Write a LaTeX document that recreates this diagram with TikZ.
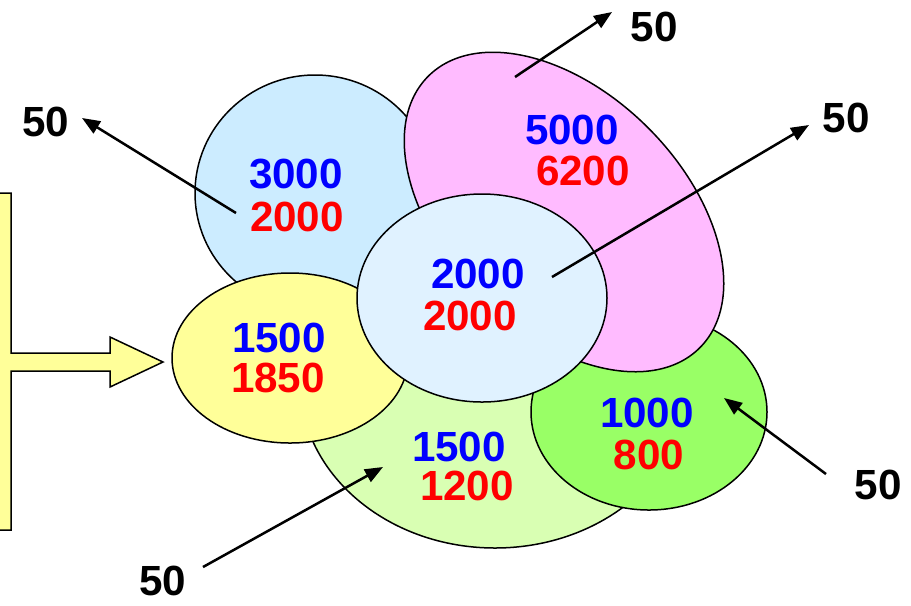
\documentclass[tikz,border=0pt]{standalone}
\usepackage{fontspec}
\setmainfont{Liberation Sans}
\usepackage{tikz}
\usetikzlibrary{arrows.meta,positioning}
\definecolor{skyblue}{HTML}{CCECFF}
\definecolor{paleblue}{HTML}{E0F2FF}
\definecolor{pinkish}{HTML}{FFBBFF}
\definecolor{paleyellow}{HTML}{FFFF99}
\definecolor{palegreen}{HTML}{D9FFB3}
\definecolor{lightgreen}{HTML}{99FF66}

\begin{document}
\begin{tikzpicture}[x=0.2mm,y=-0.2mm,
    region/.style={draw=black,line width=0.3mm},
    val/.style={font=\fontsize{24}{28}\selectfont\bfseries,inner sep=0pt},
    inval/.style={val,text=blue},
    outval/.style={val,text=red},
    flow/.style={line width=0.5mm,-{Triangle[length=3.6mm,width=2.8mm]}}]
  \useasboundingbox (0,0) rectangle (911,605);
  \begin{scope}
    \clip (0,0) rectangle (911,605);
    % the regions, back to front
    \draw[region,fill=palegreen] (495,382) ellipse [x radius=195, y radius=166];
    \draw[region,fill=lightgreen] (649,412) ellipse [x radius=118, y radius=98];
    \draw[region,fill=skyblue] (315,193) ellipse [x radius=120, y radius=118];
    \draw[region,fill=pinkish,shift={(564,212)},rotate=-45] (0,0) ellipse [x radius=192, y radius=119];
    \draw[region,fill=paleyellow] (290,358) ellipse [x radius=118, y radius=85];
    \draw[region,fill=paleblue] (482,298) ellipse [x radius=125, y radius=104];
    % feeding arrow on the left
    \draw[region,fill=paleyellow] (-10,193) -- (11,193) -- (11,353) -- (110,353) -- (110,337)
      -- (163,362) -- (110,387) -- (110,371) -- (11,371) -- (11,530) -- (-10,530) -- cycle;
  \end{scope}
  % values in each region
  \node[inval] (skyin) at (296,174) {3000};
  \node[outval] (skyout) at (297,217) {2000};
  \node[inval] (pinkin) at (572,130) {5000};
  \node[outval] (pinkout) at (583,171) {6200};
  \node[inval] (midin) at (478,274) {2000};
  \node[outval] (midout) at (470,316) {2000};
  \node[inval] (yelin) at (279,338) {1500};
  \node[outval] (yelout) at (278,378) {1850};
  \node[inval] (pgin) at (459,447) {1500};
  \node[outval] (pgout) at (467,486) {1200};
  \node[inval] (grin) at (647,413) {1000};
  \node[outval] (grout) at (649,455) {800};
  % arrow ends
  \coordinate (skysrc) at (236,213);
  \coordinate (skytip) at (82,118);
  \coordinate (pinksrc) at (515,77);
  \coordinate (pinktip) at (612,12);
  \coordinate (midsrc) at (552,277);
  \coordinate (midtip) at (809,125);
  \coordinate (grsrc) at (826,474);
  \coordinate (grtip) at (724,398);
  \coordinate (pgsrc) at (203,567);
  \coordinate (pgtip) at (383,467);
  % the 50 labels
  \node[val] (skylab) at (46,122) {50};
  \node[val] (pinklab) at (654,27) {50};
  \node[val] (midlab) at (846,118) {50};
  \node[val] (grlab) at (878,485) {50};
  \node[val] (pglab) at (163,581) {50};
  \draw[flow] (skysrc) -- (skytip);
  \draw[flow] (pinksrc) -- (pinktip);
  \draw[flow] (midsrc) -- (midtip);
  \draw[flow] (grsrc) -- (grtip);
  \draw[flow] (pgsrc) -- (pgtip);
\end{tikzpicture}
\end{document}
